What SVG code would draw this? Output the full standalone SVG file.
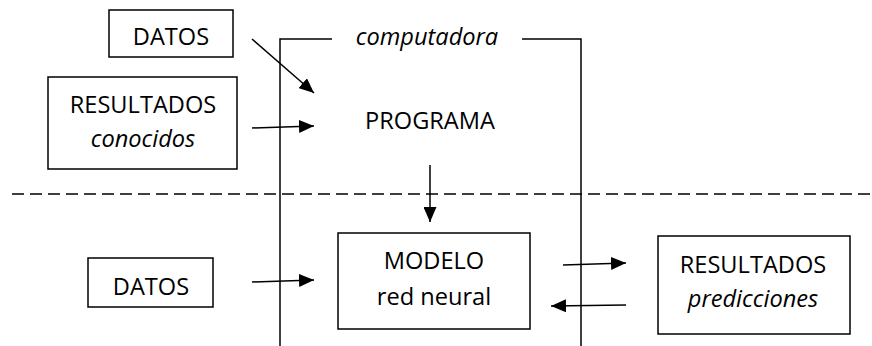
<svg xmlns="http://www.w3.org/2000/svg" width="872" height="346" viewBox="0 0 872 346">
<style>
.box{fill:#fff;stroke:#000;stroke-width:1.5}
.ln{fill:none;stroke:#000;stroke-width:1.5}
.t{font-family:"Open Sans","Liberation Sans",sans-serif;font-size:23.6px;fill:#000;text-anchor:middle}
.i{font-style:italic}
.ar{fill:none;stroke:#000;stroke-width:1.5;marker-end:url(#ah)}
</style>
<defs>
<marker id="ah" viewBox="0 0 15 13" refX="15" refY="6.5" markerWidth="15" markerHeight="13" markerUnits="userSpaceOnUse" orient="auto">
<path d="M0,0 L15,6.5 L0,13 Z" fill="#000"/>
</marker>
</defs>
<rect width="872" height="346" fill="#fff"/>
<g id="computadora">
<path class="ln" d="M280,346 V39 H332"/>
<path class="ln" d="M522,39 H581 V346"/>
<text class="t i" x="427" y="45">computadora</text>
</g>
<g id="separador">
<line x1="12" y1="194" x2="872" y2="194" stroke="#000" stroke-width="1.5" stroke-dasharray="12,6"/>
</g>
<g id="datos1">
<rect class="box" x="109" y="10" width="124" height="47"/>
<text class="t" x="171" y="45">DATOS</text>
</g>
<g id="resultados-conocidos">
<rect class="box" x="48" y="77" width="189" height="92"/>
<text class="t" x="143" y="113">RESULTADOS</text>
<text class="t i" x="143" y="147">conocidos</text>
</g>
<g id="programa">
<text class="t" x="430" y="129">PROGRAMA</text>
</g>
<g id="modelo">
<rect class="box" x="338" y="233" width="192" height="96"/>
<text class="t" x="434" y="269">MODELO</text>
<text class="t" x="434" y="305">red neural</text>
</g>
<g id="datos2">
<rect class="box" x="88" y="258" width="125" height="49"/>
<text class="t" x="151" y="295">DATOS</text>
</g>
<g id="resultados-predicciones">
<rect class="box" x="658" y="236" width="192" height="98"/>
<text class="t" x="753" y="273">RESULTADOS</text>
<text class="t i" x="753" y="307">predicciones</text>
</g>
<g id="connectors">
<line class="ar" x1="252" y1="39" x2="314" y2="93"/>
<line class="ar" x1="252" y1="128" x2="314" y2="126"/>
<line class="ar" x1="430" y1="165" x2="430" y2="222"/>
<line class="ar" x1="252" y1="282" x2="314" y2="280"/>
<line class="ar" x1="563" y1="265" x2="626" y2="263"/>
<line class="ar" x1="626" y1="305" x2="551" y2="306"/>
</g>
</svg>
